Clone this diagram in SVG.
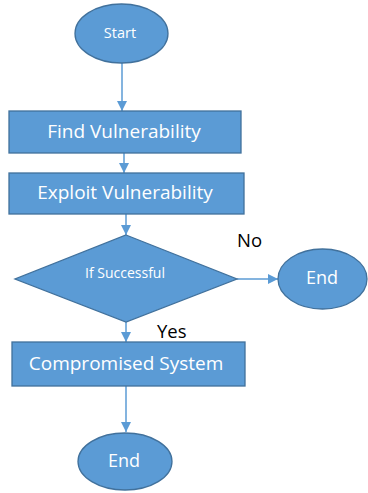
<svg xmlns="http://www.w3.org/2000/svg" width="368" height="493" viewBox="0 0 368 493">
  <defs>
    <marker id="arrow" viewBox="0 0 10 10" refX="10" refY="5" markerWidth="10" markerHeight="10" markerUnits="userSpaceOnUse" orient="auto">
      <path d="M0,0 L10,5 L0,10 z" fill="#5B9BD5"/>
    </marker>
    <style>
      .shape { fill: #5B9BD5; stroke: #41719C; stroke-width: 1.3; }
      .label { fill: #FFFFFF; font-family: "Open Sans", "Liberation Sans", sans-serif; text-anchor: middle; dominant-baseline: central; }
      .edge { stroke: #5B9BD5; stroke-width: 1.5; fill: none; marker-end: url(#arrow); }
      .note { fill: #000000; font-family: "Open Sans", "Liberation Sans", sans-serif; font-size: 18.5px; }
    </style>
  </defs>
  <rect width="368" height="493" fill="#FFFFFF"/>

  <g id="connectors">
    <line class="edge" x1="122" y1="63" x2="122" y2="111"/>
    <line class="edge" x1="124" y1="153" x2="124" y2="173"/>
    <line class="edge" x1="126" y1="214" x2="126" y2="235"/>
    <line class="edge" x1="237" y1="279" x2="278" y2="279"/>
    <line class="edge" x1="126" y1="322" x2="126" y2="342"/>
    <line class="edge" x1="126" y1="386" x2="126" y2="432"/>
    <text class="note" x="237" y="247">No</text>
    <text class="note" x="157" y="338">Yes</text>
  </g>

  <g id="start">
    <ellipse class="shape" cx="121.5" cy="33.5" rx="46.5" ry="29.5"/>
    <text class="label" x="120" y="32" font-size="14.5">Start</text>
  </g>

  <g id="find-vulnerability">
    <rect class="shape" x="9" y="111" width="232" height="42"/>
    <text class="label" x="124" y="131" font-size="19">Find Vulnerability</text>
  </g>

  <g id="exploit-vulnerability">
    <rect class="shape" x="9" y="173" width="235" height="41"/>
    <text class="label" x="125" y="192" font-size="19">Exploit Vulnerability</text>
  </g>

  <g id="if-successful">
    <polygon class="shape" points="126,235 237,279 126,322 15,279"/>
    <text class="label" x="125" y="272" font-size="14">If Successful</text>
  </g>

  <g id="end-no">
    <ellipse class="shape" cx="322.5" cy="279" rx="44.5" ry="30"/>
    <text class="label" x="322" y="277" font-size="18">End</text>
  </g>

  <g id="compromised-system">
    <rect class="shape" x="12" y="342" width="233" height="44"/>
    <text class="label" x="126" y="363" font-size="19">Compromised System</text>
  </g>

  <g id="end-yes">
    <ellipse class="shape" cx="125" cy="461.5" rx="47" ry="28.5"/>
    <text class="label" x="124" y="460" font-size="18">End</text>
  </g>
</svg>
